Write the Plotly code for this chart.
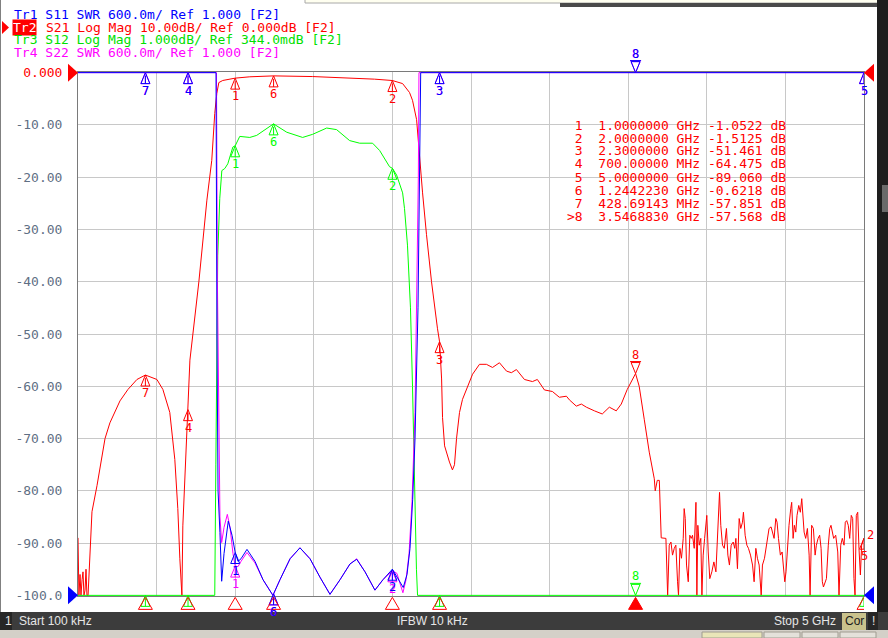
import numpy as np
import plotly.graph_objects as go

# stimulus and marker table
start_ghz = 0.0001
stop_ghz = 5.0
marker_ids = [1, 2, 3, 4, 5, 6, 7, 8]
marker_ghz = [1.0, 2.0, 2.3, 0.7, 5.0, 1.2442230, 0.42869143, 3.5468830]
marker_freq_txt = ["1.0000000 GHz", "2.0000000 GHz", "2.3000000 GHz", "700.00000 MHz",
                   "5.0000000 GHz", "1.2442230 GHz", "428.69143 MHz", "3.5468830 GHz"]
marker_val_txt = ["-1.0522", "-1.5125", "-51.461", "-64.475", "-89.060", "-0.6218", "-57.851", "-57.568"]
active_marker = 8

# Tr2 S21 log mag (dB)
s21_ghz = [0.0001, 0.006, 0.013, 0.019, 0.026, 0.032, 0.038, 0.045, 0.051, 0.057, 0.064,
           0.076, 0.089, 0.121, 0.172, 0.203, 0.267, 0.318, 0.375, 0.42869143, 0.502, 0.540,
           0.584, 0.616, 0.635, 0.648, 0.661, 0.667, 0.680, 0.700, 0.712, 0.769, 0.820, 0.851,
           0.870, 0.883, 0.896, 0.921, 1.0, 1.093, 1.2442230, 1.493, 1.747, 1.887, 2.0, 2.065,
           2.109, 2.128, 2.154, 2.173, 2.192, 2.217, 2.249, 2.287, 2.3, 2.313, 2.319, 2.332,
           2.351, 2.363, 2.382, 2.395, 2.408, 2.427, 2.446, 2.478, 2.510, 2.554, 2.598, 2.637,
           2.681, 2.726, 2.757, 2.789, 2.840, 2.891, 2.922, 2.967, 3.018, 3.062, 3.107, 3.126,
           3.170, 3.202, 3.234, 3.285, 3.335, 3.380, 3.424, 3.456, 3.494, 3.5468830, 3.570, 3.602,
           3.634, 3.666, 3.672, 3.685, 3.698, 3.710]
s21_db = [-89.0, -100.0, -96.0, -100.0, -97.0, -95.5, -100.0, -99.0, -95.0, -100.0, -100.0,
          -90.7, -84.0, -79.0, -70.0, -67.0, -62.8, -60.6, -58.7, -57.851, -58.7, -60.6,
          -65.0, -74.0, -83.4, -93.0, -100.0, -86.7, -77.0, -64.475, -55.0, -40.0, -24.4, -16.8,
          -7.8, -4.0, -1.9, -1.5, -1.0522, -0.8, -0.6218, -0.75, -1.0, -1.25, -1.5125, -2.1,
          -3.8, -5.3, -9.0, -16.8, -23.0, -31.0, -40.0, -49.0, -51.461, -58.6, -66.0, -71.4,
          -73.5, -74.5, -76.0, -75.0, -70.0, -65.0, -62.5, -60.0, -57.7, -55.8, -55.8, -56.4,
          -55.5, -57.1, -57.4, -56.8, -58.7, -59.1, -58.7, -60.7, -61.0, -62.1, -61.9, -62.6,
          -63.8, -63.4, -64.0, -64.7, -65.3, -64.0, -64.7, -63.4, -60.6, -57.568, -60.0, -66.3,
          -72.6, -77.7, -80.0, -78.0, -78.0, -89.0]
# upper stopband (noise floor)
s21_noise_ghz = [3.740, 3.751, 3.761, 3.772, 3.782, 3.793, 3.803, 3.814, 3.820, 3.829,
                 3.839, 3.850, 3.856, 3.863, 3.871, 3.882, 3.892, 3.901, 3.909, 3.920,
                 3.931, 3.937, 3.943, 3.952, 3.962, 3.969, 3.977, 3.986, 3.994, 4.000,
                 4.009, 4.019, 4.032, 4.045, 4.058, 4.068, 4.075, 4.081, 4.089, 4.100,
                 4.111, 4.125, 4.134, 4.144, 4.155, 4.168, 4.178, 4.185, 4.195, 4.206,
                 4.216, 4.227, 4.233, 4.244, 4.255, 4.265, 4.278, 4.291, 4.301, 4.312,
                 4.322, 4.333, 4.346, 4.354, 4.367, 4.377, 4.386, 4.396, 4.409, 4.418,
                 4.428, 4.439, 4.447, 4.456, 4.468, 4.479, 4.487, 4.496, 4.504, 4.515,
                 4.523, 4.534, 4.540, 4.549, 4.557, 4.566, 4.574, 4.585, 4.595, 4.604,
                 4.612, 4.619, 4.629, 4.640, 4.651, 4.657, 4.667, 4.678, 4.689, 4.697,
                 4.708, 4.718, 4.727, 4.735, 4.742, 4.752, 4.761, 4.773, 4.782, 4.790,
                 4.799, 4.807, 4.820, 4.833, 4.841, 4.852, 4.862, 4.873, 4.881, 4.890,
                 4.900, 4.909, 4.919, 4.928, 4.936, 4.943, 4.951, 4.960, 4.968, 4.977,
                 4.985, 5.0]
s21_noise_db = [-89.1, -100, -90.4, -89.8, -92.3, -91.0, -90.4, -97.4, -100, -91.0,
                -92.9, -89.1, -83.4, -85.3, -94.2, -97.4, -88.5, -89.1, -88.5, -91.0,
                -82.2, -100, -86.6, -90.4, -89.1, -100, -92.3, -89.1, -86.0, -84.7,
                -91.7, -96.8, -95.5, -93.6, -95.5, -89.1, -82.8, -80.3, -86.6, -90.4,
                -91.0, -87.2, -92.3, -94.2, -90.4, -89.8, -91.0, -89.1, -94.9, -85.3,
                -87.2, -86.0, -84.1, -88.5, -90.4, -91.0, -92.3, -94.2, -97.4, -91.0,
                -92.9, -94.2, -100, -94.2, -92.9, -91.0, -88.5, -87.2, -86.9, -87.9,
                -89.1, -85.3, -86.0, -89.1, -92.3, -91.7, -94.2, -97.4, -95.5, -89.1,
                -86.6, -83.4, -82.2, -89.1, -86.6, -87.9, -84.7, -82.8, -84.1, -81.5,
                -84.1, -87.9, -89.1, -87.2, -92.3, -100, -86.6, -87.2, -92.3, -90.4,
                -89.1, -88.5, -91.0, -97.4, -98.4, -97.4, -96.8, -90.4, -87.2, -86.6,
                -87.9, -89.1, -88.5, -91.7, -100, -90.4, -89.1, -90.4, -86.0, -85.7,
                -86.6, -89.1, -84.7, -85.3, -96.8, -100, -84.7, -84.1, -91.0, -96.1,
                -90.4, -89.06]

# Tr3 S12 log mag (dB)
s12_ghz = [0.0001, 0.870, 0.877, 0.883, 0.889, 0.902, 0.915, 0.934, 0.953, 0.985, 1.0,
           1.029, 1.093, 1.137, 1.244, 1.328, 1.429, 1.493, 1.582, 1.645, 1.728, 1.792,
           1.874, 1.919, 1.982, 2.0, 2.027, 2.065, 2.077, 2.096, 2.115, 2.128, 2.140,
           2.153, 2.160, 5.0]
s12_db = [-10.0, -10.0, -7.16, -4.66, -3.16, -2.06, -1.53, -1.49, -1.40, -1.08, -1.056,
          -0.876, -0.896, -0.856, -0.636, -0.796, -0.896, -0.836, -0.716, -0.746, -0.956, -1.006,
          -1.006, -1.146, -1.456, -1.486, -1.616, -1.956, -2.256, -2.956, -4.156, -5.656, -7.656,
          -9.156, -10.0, -10.0]

# Tr1 S11 SWR
s11_ghz = [0.0001, 0.878, 0.884, 0.891, 0.903, 0.914, 0.929, 0.956, 0.980, 1.0, 1.018,
           1.037, 1.075, 1.126, 1.177, 1.240, 1.285, 1.349, 1.412, 1.476, 1.539, 1.603,
           1.667, 1.730, 1.773, 1.826, 1.889, 1.940, 2.0, 2.029, 2.069, 2.093, 2.112,
           2.129, 2.144, 2.163, 2.176, 2.180, 5.0]
s11_swr = [20.0, 20.0, 4.0, 2.2, 1.72, 1.162, 1.48, 1.852, 1.69, 1.492, 1.39,
           1.42, 1.528, 1.39, 1.18, 1.0, 1.18, 1.42, 1.546, 1.42, 1.21, 1.012,
           1.18, 1.36, 1.414, 1.27, 1.06, 1.18, 1.30, 1.21, 1.09, 1.24, 1.54,
           2.098, 2.8, 4.3, 6.1, 20.0, 20.0]

# Tr4 S22 SWR
s22_ghz = [0.0001, 0.881, 0.887, 0.897, 0.903, 0.914, 0.929, 0.950, 0.967, 0.986, 1.0,
           1.018, 1.037, 1.075, 1.126, 1.177, 1.240, 1.285, 1.349, 1.412, 1.476, 1.539,
           1.603, 1.667, 1.730, 1.773, 1.826, 1.889, 1.940, 2.0, 2.029, 2.067, 2.087,
           2.106, 2.125, 2.144, 2.157, 2.165, 2.169, 5.0]
s22_swr = [20.0, 20.0, 4.6, 2.5, 1.9, 1.606, 1.78, 1.93, 1.78, 1.48, 1.336,
           1.33, 1.39, 1.492, 1.372, 1.18, 1.0, 1.18, 1.42, 1.546, 1.42, 1.21,
           1.012, 1.18, 1.36, 1.42, 1.27, 1.06, 1.18, 1.282, 1.252, 1.03, 1.18,
           1.48, 2.08, 3.1, 4.6, 5.8, 20.0, 20.0]

y_ticktext = ["-100.0", "-90.00", "-80.00", "-70.00", "-60.00", "-50.00",
              "-40.00", "-30.00", "-20.00", "-10.00", "0.000"]

# figure geometry (px)
W, H = 888, 638
L, R, T, B = 78, 24, 72, 42
PW, PH = W - L - R, H - T - B
MONO = "DejaVu Sans Mono"
Y_RANGE = [-100.12, 0.12]


def fx(px):
    return (px - L) / PW


def fy(py):
    return (H - B - py) / PH


def gy(v):
    # graticule value -> paper fraction of the y axis
    return (v - Y_RANGE[0]) / (Y_RANGE[1] - Y_RANGE[0])


def to_grid(v, ref, scale, pos):
    # value -> graticule position, graticule shown as -100..0 (10 divisions)
    return (pos + (np.asarray(v, dtype=float) - ref) / scale) * 10 - 100


# trace formats, in draw order
traces = [
    dict(ghz=s21_ghz + s21_noise_ghz, val=s21_db + s21_noise_db, ref=0.0, scale=10.0, pos=10, color="#ff0000"),
    dict(ghz=s12_ghz, val=s12_db, ref=0.344, scale=1.0, pos=10, color="#00ff00"),
    dict(ghz=s22_ghz, val=s22_swr, ref=1.0, scale=0.6, pos=0, color="#ff00ff"),
    dict(ghz=s11_ghz, val=s11_swr, ref=1.0, scale=0.6, pos=0, color="#0000ff"),
]
for t in traces:
    assert len(t["ghz"]) == len(t["val"])

fig = go.Figure()
shapes = []
ann = []

for t in traces:
    y = np.clip(to_grid(t["val"], t["ref"], t["scale"], t["pos"]), -100, 0)
    fig.add_trace(go.Scatter(x=t["ghz"], y=y, mode="lines", line=dict(color=t["color"], width=1),
                             hoverinfo="skip", showlegend=False))

# markers on each trace
for t in traces:
    raw = to_grid(t["val"], t["ref"], t["scale"], t["pos"])
    for mid, mf in zip(marker_ids, marker_ghz):
        my = float(np.clip(np.interp(mf, t["ghz"], raw), -100, 0))
        if mid == active_marker:
            path = "M0,0 L-4.5,11 L4.5,11 Z M-5.5,12 L5.5,12"
            shift = 19
        else:
            path = "M0,0 L-4.5,-11 L4.5,-11 Z M0,-3 L0,-11"
            shift = -18
        shapes.append(dict(type="path", xref="x", yref="paper", xsizemode="pixel", ysizemode="pixel",
                           xanchor=mf, yanchor=gy(my), path=path, line=dict(color=t["color"], width=1),
                           layer="above"))
        if my <= -100 and mid != active_marker:
            continue  # number would sit under the status bar
        ann.append(dict(x=mf, y=my, xref="x", yref="y", text=str(mid), showarrow=False,
                        yshift=shift, font=dict(family=MONO, size=12, color=t["color"])))

# trace number at right end of Tr2
end_y = float(np.clip(to_grid(s21_noise_db[-1], 0.0, 10.0, 10), -100, 0))
ann.append(dict(x=stop_ghz, y=end_y, xref="x", yref="y", text="2", showarrow=False,
                xanchor="left", xshift=1, yshift=3, font=dict(family=MONO, size=12, color="#ff0000")))

# stimulus marker row under the graticule
for mid, mf in zip(marker_ids, marker_ghz):
    shapes.append(dict(type="path", xref="x", yref="paper", xsizemode="pixel", ysizemode="pixel",
                       xanchor=mf, yanchor=gy(-100), path="M0,-2 L-7,-14 L7,-14 Z",
                       line=dict(color="#ff0000", width=1),
                       fillcolor="#ff0000" if mid == active_marker else "rgba(0,0,0,0)", layer="above"))

# reference level arrows (Tr2 red, Tr1 blue)
for t in (traces[0], traces[3]):
    ry = float(to_grid(t["ref"], t["ref"], t["scale"], t["pos"]))
    for xa, p in ((0, "M-10,9 L0,0 L-10,-9 Z"), (1, "M10,9 L0,0 L10,-9 Z")):
        shapes.append(dict(type="path", xref="paper", yref="paper", xsizemode="pixel", ysizemode="pixel",
                           xanchor=xa, yanchor=gy(ry), path=p, line=dict(color=t["color"], width=0),
                           fillcolor=t["color"], layer="above"))


def box(x0, y0, x1, y1, fill, line=None):
    return dict(type="rect", xref="paper", yref="paper", x0=fx(x0), x1=fx(x1), y0=fy(y1), y1=fy(y0),
                fillcolor=fill, line=dict(width=1 if line else 0, color=line or fill), layer="above")


# window chrome
shapes += [
    box(305, -1, 878, 3, "#fffff0", "#a8a8a8"),
    box(560, 3, 878, 7, "#4a4a4a"),
    box(0, 0, 1, 612, "#808080"),
    box(877, 0, 888, 612, "#1e1e1e"),
    box(882, 185, 888, 212, "#6a6a6a"),
    box(0, 612, 888, 630, "#3c3c3c"),
    box(0, 612, 12, 630, "#262626"),
    box(842, 613, 866, 630, "#c9c28c"),
    box(868, 612, 878, 630, "#262626"),
    box(0, 630, 888, 638, "#d4d0c8"),
    box(702, 632, 762, 638, "#e9e5b8", "#a09c90"),
    box(764, 632, 800, 638, "#e4e1da", "#a09c90"),
    box(802, 632, 838, 638, "#e4e1da", "#a09c90"),
    box(840, 632, 876, 638, "#e4e1da", "#a09c90"),
]
# active trace pointer in the header
shapes.append(dict(type="path", xref="paper", yref="paper",
                   path=f"M{fx(2)},{fy(21)} L{fx(9)},{fy(27.5)} L{fx(2)},{fy(34)} Z",
                   fillcolor="#ff0000", line=dict(width=0), layer="above"))


def label(x, y, text, color, size=13, family=MONO, xanchor="left", bg=None):
    d = dict(x=fx(x), y=fy(y), xref="paper", yref="paper", text=text, showarrow=False,
             xanchor=xanchor, yanchor="middle", font=dict(family=family, size=size, color=color))
    if bg:
        d.update(bgcolor=bg, borderpad=0)
    return d


NB = "\u00a0"
ann += [
    label(12, 15, "Tr1 S11 SWR 600.0m/ Ref 1.000 [F2]".replace(" ", NB), "#0000ff"),
    label(12, 28, "Tr2", "#ffffff", bg="#ff0000"),
    label(44, 28, "S21 Log Mag 10.00dB/ Ref 0.000dB [F2]".replace(" ", NB), "#ff0000"),
    label(12, 40, "Tr3 S12 Log Mag 1.000dB/ Ref 344.0mdB [F2]".replace(" ", NB), "#00e000"),
    label(12, 52, "Tr4 S22 SWR 600.0m/ Ref 1.000 [F2]".replace(" ", NB), "#ff00ff"),
]
for i, (mid, ftxt, vtxt) in enumerate(zip(marker_ids, marker_freq_txt, marker_val_txt)):
    row = (">" if mid == active_marker else " ") + f"{mid}  {ftxt} {vtxt} dB"
    ann.append(label(565, 125 + 13 * i, row.replace(" ", NB), "#ff0000"))

SANS = "Liberation Sans"
ann += [
    label(3, 621, "1", "#e6e6e6", size=12, family=SANS),
    label(17, 621, "Start 100 kHz", "#e6e6e6", size=12, family=SANS),
    label(432, 621, "IFBW 10 kHz", "#e6e6e6", size=12, family=SANS, xanchor="center"),
    label(838, 621, "Stop 5 GHz", "#e6e6e6", size=12, family=SANS, xanchor="right"),
    label(854, 621, "Cor", "#1a1a1a", size=12, family=SANS, xanchor="center"),
    label(873, 621, "!", "#e6e6e6", size=12, family=SANS, xanchor="center"),
]

yvals = np.linspace(-100, 0, 11)
ytext = [f"<span style='color:#ff0000'>{s}</span>" if s == "0.000" else s for s in y_ticktext]

fig.update_layout(
    width=W, height=H,
    margin=dict(l=L, r=R, t=T, b=B, pad=0),
    paper_bgcolor="#ffffff",
    plot_bgcolor="#ffffff",
    showlegend=False,
    xaxis=dict(range=[start_ghz, stop_ghz], tickvals=np.linspace(start_ghz, stop_ghz, 11),
               showticklabels=False, ticks="", showgrid=True, gridcolor="#c8c8c8", gridwidth=1,
               zeroline=False, showline=True, mirror=True, linecolor="#7a7a7a", linewidth=1),
    yaxis=dict(range=Y_RANGE, tickvals=yvals, ticktext=ytext, ticks="",
               ticklabelstandoff=12, tickfont=dict(family=MONO, size=13, color="#5f6f84"),
               showgrid=True, gridcolor="#c8c8c8", gridwidth=1, zeroline=False,
               showline=True, mirror=True, linecolor="#7a7a7a", linewidth=1),
    shapes=shapes,
    annotations=ann,
)

fig.write_html("out.html", config={"displayModeBar": False},
               post_script="document.body.style.margin='0';")
